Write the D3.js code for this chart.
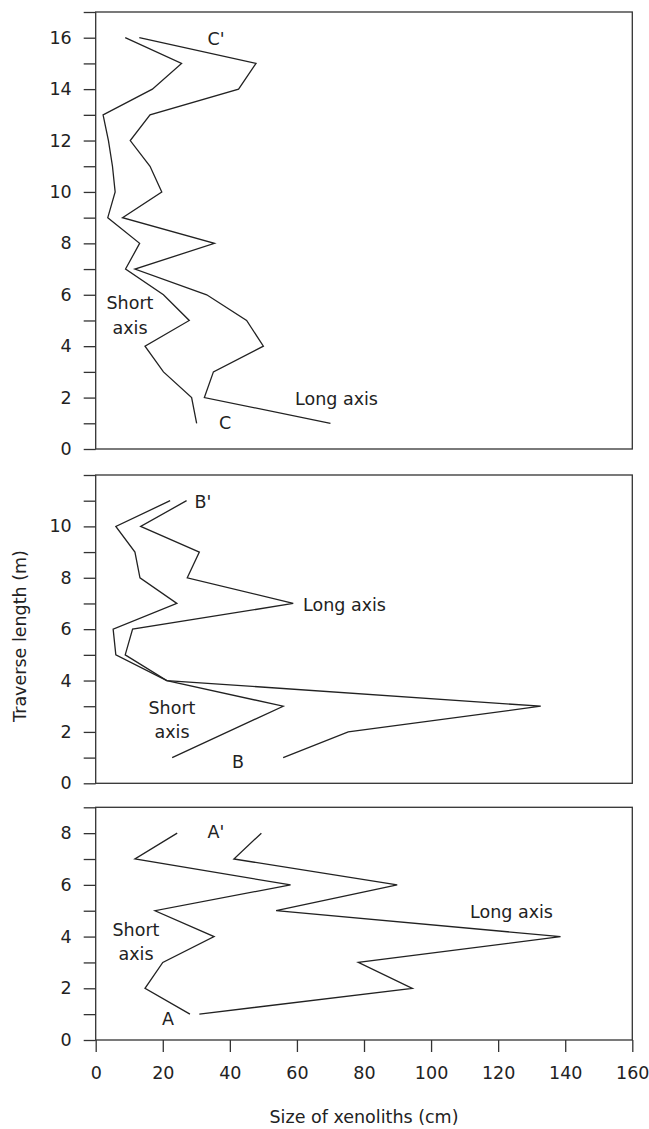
<!DOCTYPE html>
<html>
<head>
<meta charset="utf-8">
<script src="https://cdn.jsdelivr.net/npm/d3@7"></script>
<style>
  body { margin: 0; background: #fff; }
  text { font-family: "DejaVu Sans", sans-serif; fill: #222; }
  .frame { fill: none; stroke: #333; stroke-width: 1.3; }
  .trace { fill: none; stroke: #222; stroke-width: 1.3; stroke-linejoin: miter; }
  .tick line { stroke: #333; stroke-width: 1.3; }
</style>
</head>
<body>
<svg width="649" height="1129"></svg>
<script>
// x ticks
const xTicks = [0, 20, 40, 60, 80, 100, 120, 140, 160];

// traverse C-C' (top panel)
const cPos = [16, 15, 14, 13, 12, 11, 10, 9, 8, 7, 6, 5, 4, 3, 2, 1];
const cShort = [8.8, 25.6, 16.9, 2.2, 3.8, 5.0, 5.8, 3.6, 13.1, 8.9, 20.2, 27.9, 14.7, 20.2, 28.6, 30.1];
const cLong = [13.0, 47.8, 42.6, 16.2, 10.3, 16.2, 19.7, 8.0, 35.4, 11.7, 33.1, 45.0, 50.0, 35.1, 32.4, 70.0];

// traverse B-B' (middle panel)
const bShortPos = [11, 10, 9, 8, 7, 6, 5, 4, 3, 1];
const bShort = [22.2, 6.0, 11.7, 13.2, 24.2, 5.2, 6.0, 21.2, 55.9, 22.8];
const bLongPos = [11, 10, 9, 8, 7, 6, 5, 4, 3, 2, 1];
const bLong = [27.1, 13.4, 30.9, 27.3, 58.9, 11.0, 8.8, 21.2, 132.7, 75.3, 55.9];

// traverse A-A' (bottom panel)
const aPos = [8, 7, 6, 5, 4, 3, 2, 1];
const aShort = [24.3, 11.7, 58.1, 17.7, 35.3, 20.0, 14.7, 28.1];
const aLong = [49.4, 41.2, 89.9, 53.8, 138.6, 78.3, 94.4, 30.9];

const svg = d3.select('svg');
const left = 95.7, right = 632.3;
const fs = '17.5px';

const x = d3.scaleLinear().domain([0, 160]).range([left, right]);

const panels = [
  { top: 12, bottom: 449, max: 17,
    series: [[cPos, cShort], [cPos, cLong]],
    labels: [
      { t: "C'", x: 216, y: 45, a: 'middle' },
      { t: 'C', x: 225, y: 429, a: 'middle' },
      { t: 'Short', x: 130, y: 309, a: 'middle' },
      { t: 'axis', x: 130, y: 334, a: 'middle' },
      { t: 'Long axis', x: 295, y: 405, a: 'start' }
    ] },
  { top: 475, bottom: 783.3, max: 12,
    series: [[bShortPos, bShort], [bLongPos, bLong]],
    labels: [
      { t: "B'", x: 203, y: 508, a: 'middle' },
      { t: 'B', x: 238, y: 768, a: 'middle' },
      { t: 'Short', x: 172, y: 714, a: 'middle' },
      { t: 'axis', x: 172, y: 738, a: 'middle' },
      { t: 'Long axis', x: 303, y: 611, a: 'start' }
    ] },
  { top: 807.3, bottom: 1040, max: 9,
    series: [[aPos, aShort], [aPos, aLong]],
    labels: [
      { t: "A'", x: 216, y: 838, a: 'middle' },
      { t: 'A', x: 168, y: 1025, a: 'middle' },
      { t: 'Short', x: 136, y: 936, a: 'middle' },
      { t: 'axis', x: 136, y: 960, a: 'middle' },
      { t: 'Long axis', x: 470, y: 918, a: 'start' }
    ] }
];

panels.forEach((p, i) => {
  const y = d3.scaleLinear().domain([0, p.max]).range([p.bottom, p.top]);

  // every metre gets a tick, even ones get a label (not the top edge)
  const yAxis = d3.axisLeft(y)
    .tickValues(d3.range(0, p.max + 1))
    .tickFormat(d => (d % 2 === 0 && d !== p.max) ? d : '')
    .tickSize(12)
    .tickPadding(12);

  const g = svg.append('g').attr('transform', `translate(${left},0)`).call(yAxis);
  g.select('.domain').remove();
  g.selectAll('text').style('font-size', fs).style('font-family', '"DejaVu Sans", sans-serif').attr('fill', '#222');

  if (i === panels.length - 1) {
    const xg = svg.append('g').attr('transform', `translate(0,${p.bottom})`)
      .call(d3.axisBottom(x).tickValues(xTicks).tickSize(12).tickPadding(15));
    xg.select('.domain').remove();
    xg.selectAll('text').style('font-size', fs).style('font-family', '"DejaVu Sans", sans-serif').attr('fill', '#222');
  }

  const line = d3.line().x(d => x(d[1])).y(d => y(d[0]));
  p.series.forEach(([pos, vals]) => {
    svg.append('path')
      .attr('class', 'trace')
      .attr('d', line(pos.map((v, k) => [v, vals[k]])));
  });

  svg.append('rect')
    .attr('class', 'frame')
    .attr('x', left).attr('y', p.top)
    .attr('width', right - left).attr('height', p.bottom - p.top);

  svg.selectAll(null)
    .data(p.labels)
    .enter().append('text')
    .attr('x', d => d.x).attr('y', d => d.y)
    .attr('text-anchor', d => d.a)
    .style('font-size', fs)
    .text(d => d.t);
});

svg.append('text')
  .attr('x', (left + right) / 2).attr('y', 1123)
  .attr('text-anchor', 'middle')
  .style('font-size', fs)
  .text('Size of xenoliths (cm)');

svg.append('text')
  .attr('transform', 'translate(26,636) rotate(-90)')
  .attr('text-anchor', 'middle')
  .style('font-size', fs)
  .text('Traverse length (m)');
</script>
</body>
</html>
